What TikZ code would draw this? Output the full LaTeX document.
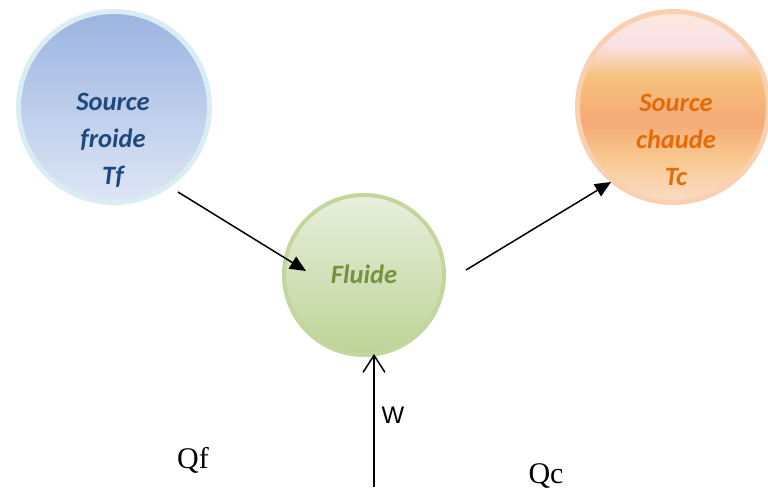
\documentclass[tikz,border=0pt]{standalone}
\usepackage{fontspec}
\setmainfont{Liberation Serif}
\newfontfamily\calib{Carlito}
\newfontfamily\arial{Liberation Sans}
\usetikzlibrary{arrows.meta}

\definecolor{froideHaut}{HTML}{9BB4E1}
\definecolor{froideBas}{HTML}{DEE6F5}
\definecolor{froideBord}{HTML}{DAEDF3}
\definecolor{froideTxt}{HTML}{1F497D}
\definecolor{fluideHaut}{HTML}{E8EFDC}
\definecolor{fluideBas}{HTML}{BDD396}
\definecolor{fluideBord}{HTML}{C3D69B}
\definecolor{fluideTxt}{HTML}{76923C}
\definecolor{chaudeBord}{HTML}{F9D0B2}
\definecolor{chaudeTxt}{HTML}{E36C09}
\definecolor{chA}{HTML}{FBDCC6}
\definecolor{chB}{HTML}{F8C98F}
\definecolor{chC}{HTML}{F5A977}
\definecolor{chD}{HTML}{F7C27C}
\definecolor{chE}{HTML}{F9E2EA}
\definecolor{chF}{HTML}{FBE9DA}
\pgfdeclareverticalshading{chaude}{100bp}{color(0bp)=(chA); color(25bp)=(chA);
  color(36.5bp)=(chB); color(46bp)=(chC); color(58bp)=(chD);
  color(66.5bp)=(chE); color(75bp)=(chF); color(100bp)=(chF)}

\tikzset{
  source/.style={circle, inner sep=0pt, minimum size=191pt, line width=5pt},
  titre/.style={font=\calib\bfseries\itshape\fontsize{26.5}{37}\selectfont, align=center},
  fleche/.style={line width=1.5pt, -{Triangle[length=16pt,width=14pt]}}
}

\begin{document}
\begin{tikzpicture}[x=1pt,y=1pt]
\useasboundingbox (0,0) rectangle (768,-493);
% les trois reservoirs
\node[source, draw=froideBord, top color=froideHaut, bottom color=froideBas] (froide) at (114,-107) {};
\node[source, draw=chaudeBord, shading=chaude] (chaude) at (673,-107) {};
\node[circle, inner sep=0pt, minimum size=160pt, line width=4pt, draw=fluideBord,
  top color=fluideHaut, bottom color=fluideBas] (fluide) at (364,-275) {};
\node[titre, text=froideTxt] (tf) at (113,-140) {Source\\froide\\Tf};
\node[titre, text=chaudeTxt] (tc) at (676,-140) {Source\\chaude\\Tc};
\node[titre, text=fluideTxt] (fl) at (364,-274) {Fluide};
% echanges
\coordinate (a1) at (178,-192);
\coordinate (b1) at (306,-271);
\coordinate (a2) at (466,-270);
\coordinate (b2) at (611,-182);
\coordinate (a3) at (374,-487);
\coordinate (b3) at (374,-354);
\draw[fleche] (a1) -- (b1);
\draw[fleche] (a2) -- (b2);
\draw[line width=1.5pt, -{Straight Barb[length=17pt,width=22pt,line width=1.5pt]}] (a3) -- (b3);
\node[font=\arial\fontsize{24}{28}\selectfont] (w) at (393,-415) {W};
\node[font=\fontsize{30}{34}\selectfont] (qf) at (193,-460) {Qf};
\node[font=\fontsize{30}{34}\selectfont] (qc) at (546,-476) {Qc};
\end{tikzpicture}
\end{document}
